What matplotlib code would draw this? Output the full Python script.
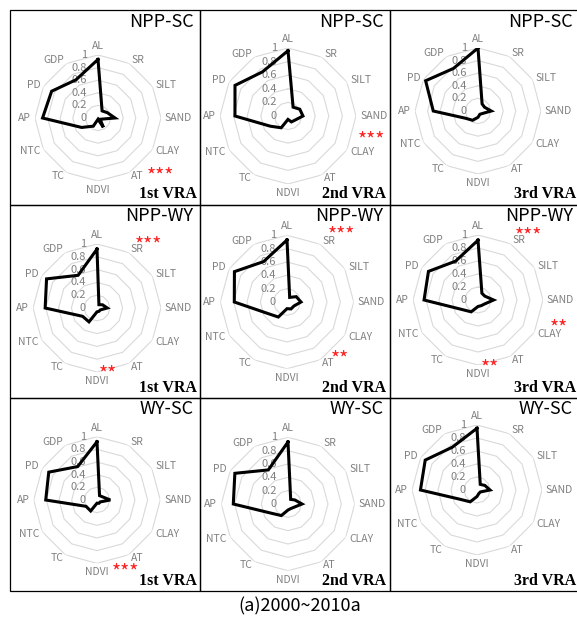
import numpy as np
import matplotlib
matplotlib.use('Agg')
from matplotlib import pyplot as plt
from matplotlib.transforms import offset_copy
from matplotlib.patches import Rectangle

plt.rcParams['font.family'] = ['Noto Sans CJK SC', 'DejaVu Sans']

categories = ['AL', 'SR', 'SILT', 'SAND', 'CLAY', 'AT', 'NDVI', 'TC', 'NTC', 'AP', 'PD', 'GDP']
pairs = ['NPP-SC', 'NPP-WY', 'WY-SC']
rounds = ['1st VRA', '2nd VRA', '3rd VRA']
ticks = [0, 0.2, 0.4, 0.6, 0.8, 1]

# one row per round, values in category order
npp_sc = [
    [0.93, 0.13, 0.17, 0.27, 0.04, 0.17, 0.02, 0.15, 0.30, 0.88, 0.85, 0.70],
    [0.96, 0.15, 0.20, 0.22, 0.12, 0.10, 0.05, 0.20, 0.30, 0.78, 0.90, 0.75],
    [1.00, 0.13, 0.12, 0.21, 0.08, 0.06, 0.10, 0.17, 0.23, 0.71, 0.96, 0.78],
]
npp_wy = [
    [0.92, 0.06, 0.10, 0.16, 0.06, 0.06, 0.06, 0.25, 0.26, 0.81, 0.91, 0.59],
    [0.93, 0.08, 0.16, 0.21, 0.12, 0.12, 0.10, 0.26, 0.34, 0.79, 0.91, 0.70],
    [0.92, 0.12, 0.12, 0.24, 0.12, 0.10, 0.10, 0.21, 0.29, 0.83, 0.88, 0.69],
]
wy_sc = [
    [0.92, 0.08, 0.10, 0.21, 0.06, 0.06, 0.05, 0.20, 0.20, 0.81, 0.88, 0.61],
    [0.93, 0.08, 0.12, 0.21, 0.10, 0.08, 0.09, 0.20, 0.28, 0.82, 0.92, 0.59],
    [0.95, 0.10, 0.14, 0.20, 0.06, 0.06, 0.10, 0.21, 0.29, 0.87, 0.92, 0.76],
]
all_vals = [npp_sc, npp_wy, wy_sc]

# significance marks: (row, col, category, stars)
stars = [
    (0, 0, 'AT', '***'), (0, 1, 'CLAY', '***'),
    (1, 0, 'SR', '***'), (1, 0, 'NDVI', '**'),
    (1, 1, 'SR', '***'), (1, 1, 'AT', '**'),
    (1, 2, 'SR', '***'), (1, 2, 'CLAY', '**'), (1, 2, 'NDVI', '**'),
    (2, 0, 'NDVI', '***'),
]

# layout, in pixels
W, H = 577, 620
col_x = [10, 199.5, 389.5, 579]
row_y = [10, 204.5, 397.5, 591]
centers = [[(98, 118, 63), (288, 116, 68), (478, 111, 63)],
           [(97, 308, 64), (287, 302, 66.7), (478, 300, 65)],
           [(97, 500, 63.3), (288, 504, 66.7), (477, 490, 65)]]
star_off = {(0, 0, 'AT'): (62, 55), (0, 1, 'CLAY'): (83.5, 21),
            (1, 0, 'SR'): (51, -66), (1, 0, 'NDVI'): (11, 63),
            (1, 1, 'SR'): (54, -70), (1, 1, 'AT'): (53, 54),
            (1, 2, 'SR'): (50, -67), (1, 2, 'CLAY'): (81, 25), (1, 2, 'NDVI'): (12, 65),
            (2, 0, 'NDVI'): (28.5, 69)}

gray = '#808080'
fig = plt.figure(figsize=(W/100, H/100), dpi=100)

def fx(px):
    return px / W

def fy(py):
    return 1 - py / H

N = len(categories)
angles = np.linspace(0, 2*np.pi, N, endpoint=False)
closed = np.append(angles, angles[0])

for i in range(3):
    for j in range(3):
        cx, cy, R = centers[i][j]
        ax = fig.add_axes([fx(cx-R), fy(cy+R), 2*R/W, 2*R/H], projection='polar')
        ax.set_theta_zero_location('N')
        ax.set_theta_direction(-1)
        ax.set_ylim(0, 1)
        ax.set_xticks([])
        ax.set_yticks([])
        ax.grid(False)
        ax.spines['polar'].set_visible(False)
        ax.patch.set_alpha(0)

        for v in ticks[1:]:
            ax.plot(closed, [v]*(N+1), color='#d9d9d9', lw=0.8, zorder=1)

        tr = offset_copy(ax.transData, fig=fig, x=-11, y=0, units='dots')
        for v in ticks:
            ax.text(0, v, f'{v:g}', transform=tr, ha='right', va='center',
                    fontsize=8, color=gray, zorder=2)

        for a, c in zip(angles, categories):
            s, co = np.sin(a), np.cos(a)
            ha = 'left' if s > 0.1 else ('right' if s < -0.1 else 'center')
            va = 'bottom' if co > 0.9 else ('top' if co < -0.9 else 'center')
            ax.text(a, 1.06, c, ha=ha, va=va, fontsize=7.5, color=gray)

        vals = all_vals[i][j]
        ax.plot(closed, vals + vals[:1], color='black', lw=2.2, zorder=3,
                solid_joinstyle='miter')

        fig.text(fx(col_x[j+1]-6), fy(row_y[i]+12), pairs[i], ha='right', va='center',
                 fontsize=13)
        fig.text(fx(col_x[j+1]-3), fy(row_y[i+1]-10), rounds[j], ha='right', va='center',
                 fontsize=11.5, family='Liberation Serif', weight='bold')

        fig.add_artist(Rectangle((fx(col_x[j]), fy(row_y[i+1])),
                                 (col_x[j+1]-col_x[j])/W, (row_y[i+1]-row_y[i])/H,
                                 transform=fig.transFigure, fill=False,
                                 edgecolor='black', lw=0.9))

for r, c, cat, mark in stars:
    cx, cy, R = centers[r][c]
    dx, dy = star_off[(r, c, cat)]
    fig.text(fx(cx+dx), fy(cy+dy+10), mark, ha='center', va='baseline',
             fontsize=14, color='#ff2020')

fig.text(fx(300), fy(606), '(a)2000~2010a', ha='center', va='center', fontsize=13)

fig.savefig('out.png', dpi=100)
